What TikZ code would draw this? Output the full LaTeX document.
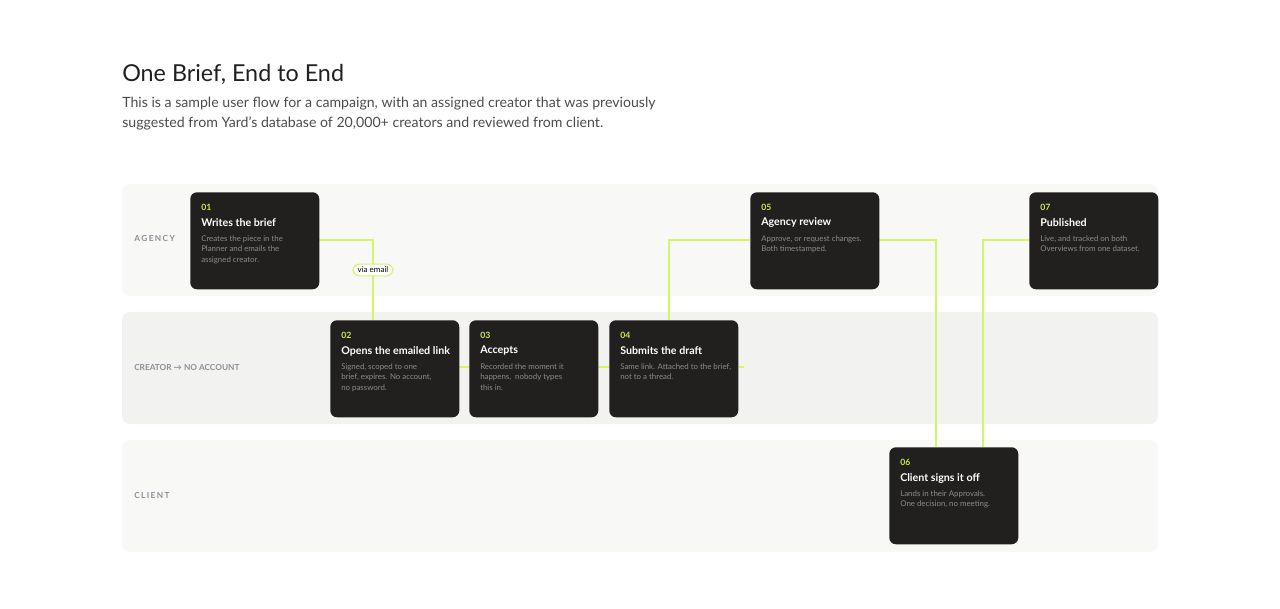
\documentclass[tikz,border=0pt]{standalone}
\usepackage{fontspec}
\setmainfont{Lato}
\usetikzlibrary{positioning,calc}
\definecolor{cardbg}{HTML}{221F1F}
\definecolor{lime}{HTML}{D4F56A}
\definecolor{limetext}{HTML}{C6EE4A}
\definecolor{lanebg}{HTML}{F8F8F6}
\definecolor{lanebgmid}{HTML}{F2F2F0}
\definecolor{lanelabel}{HTML}{8C8F96}
\definecolor{desc}{HTML}{8D8B88}
\tikzset{
  lane/.style={fill=#1, draw=none, rounded corners=6pt},
  card/.style={fill=cardbg, rounded corners=5pt, anchor=north west, inner sep=0pt,
    minimum width=129*0.75pt, minimum height=97*0.75pt},
  num/.style={anchor=west, inner sep=0pt, text=limetext, font=\fontsize{6.5}{7}\selectfont\bfseries},
  ttl/.style={anchor=west, inner sep=0pt, text=white, font=\fontsize{8}{9}\selectfont\bfseries},
  dsc/.style={anchor=north west, inner sep=0pt, text=desc, align=left, font=\fontsize{5.9}{8.2}\selectfont},
  lanetxt/.style={anchor=west, inner sep=0pt, text=lanelabel, font=\fontsize{6.2}{7}\selectfont\bfseries},
  flow/.style={draw=lime, line width=1.3pt},
}
% card: name, x, y, number, title, description
\newcommand{\stepcard}[6]{
  \node[card] (#1) at (#2,#3) {};
  \node[num] (#1-n) at ($(#1.north west)+(11,15)$) {#4};
  \node[ttl] (#1-t) at ($(#1.north west)+(11,31)$) {#5};
  \node[dsc] (#1-d) at ($(#1.north west)+(11,43)$) {#6};
}
\begin{document}
\begin{tikzpicture}[x=0.75pt,y=-0.75pt]
\useasboundingbox (0,0) rectangle (1280,609);

% heading
\node[anchor=west, inner sep=0pt, text=cardbg, font=\fontsize{17.5}{20}\selectfont] (title) at (122,74) {One Brief, End to End};
\node[anchor=north west, inner sep=0pt, text=black!70, align=left, font=\fontsize{10.6}{15}\selectfont] (sub) at (122,97)
  {This is a sample user flow for a campaign, with an assigned creator that was previously\\
   suggested from Yard's database of 20,000+ creators and reviewed from client.};

% lanes
\path[lane=lanebg] (122,184) rectangle (1158,296);
\path[lane=lanebgmid] (122,312) rectangle (1158,424);
\path[lane=lanebg] (122,440) rectangle (1158,552);
\node[lanetxt] (l1) at (134,239) {A\,G\,E\,N\,C\,Y};
\node[lanetxt] (l2) at (134,368) {CREATOR \textrightarrow{} NO ACCOUNT};
\node[lanetxt] (l3) at (134,496) {C\,L\,I\,E\,N\,T};

% connectors first, cards on top
\coordinate (j1) at (373,240);
\coordinate (j2) at (669,240);
\coordinate (j3) at (936,240);
\coordinate (j4) at (983,240);
\coordinate (stub) at (744,367);
\draw[flow] (319,240) -- (j1) -- (373,320);
\draw[flow] (459,367) -- (469,367);
\draw[flow] (598,367) -- (609,367);
\draw[flow] (739,367) -- (stub);
\draw[flow] (669,320) -- (j2) -- (750,240);
\draw[flow] (879,240) -- (j3) -- (936,447);
\draw[flow] (983,447) -- (j4) -- (1029,240);
\node[fill=white, draw=lime, line width=0.8pt, rounded corners=5pt, inner xsep=3.5pt, inner ysep=2.2pt,
  font=\fontsize{6}{6}\selectfont] (via) at (373,270) {via email};

\stepcard{s1}{190}{192}{01}{Writes the brief}{Creates the piece in the\\Planner and emails the\\assigned creator.}
\stepcard{s2}{330}{320}{02}{Opens the emailed link}{Signed, scoped to one\\brief, expires. No account,\\no password.}
\stepcard{s3}{469}{320}{03}{Accepts}{Recorded the moment it\\happens,\ \ nobody types\\this in.}
\stepcard{s4}{609}{320}{04}{Submits the draft}{Same link. Attached to the brief,\\not to a thread.}
\stepcard{s5}{750}{192}{05}{Agency review}{Approve, or request changes.\\Both timestamped.}
\stepcard{s6}{889}{447}{06}{Client signs it off}{Lands in their Approvals.\\One decision, no meeting.}
\stepcard{s7}{1029}{192}{07}{Published}{Live, and tracked on both\\Overviews from one dataset.}
\end{tikzpicture}
\end{document}
